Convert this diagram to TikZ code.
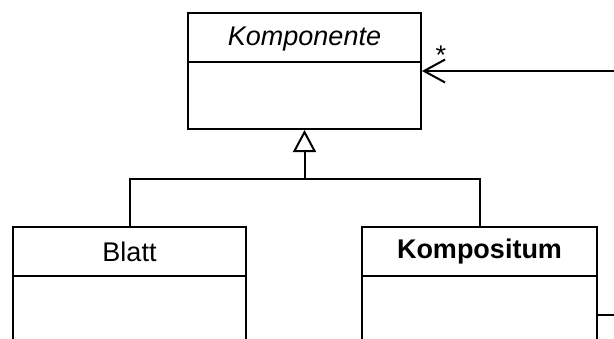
\documentclass[tikz,border=0pt]{standalone}
\usepackage{fontspec}
\setmainfont{Liberation Sans}
\usetikzlibrary{arrows.meta}
\begin{document}
\begin{tikzpicture}[x=1pt,y=-1pt,
  line width=2pt,
  classbox/.style={draw, rectangle, inner sep=0pt},
  classname/.style={font=\fontsize{27}{30}\selectfont, inner sep=0pt, anchor=center},
]
\useasboundingbox (0,0) rectangle (614,338);
\clip (0,0) rectangle (614,338);

% abstract component
\node[classbox, minimum width=233pt, minimum height=116pt] (comp) at (304.5,71) {};
\draw (188,62) -- (421,62);
\node[classname, font=\fontsize{27}{30}\selectfont\itshape] (compname) at (304.5,39) {Komponente};

% leaf
\node[classbox, minimum width=233pt, minimum height=140pt] (leaf) at (129.5,297) {};
\draw (13,276) -- (246,276);
\node[classname] (leafname) at (129.5,252) {Blatt};

% composite
\node[classbox, minimum width=235pt, minimum height=140pt] (compos) at (479.5,297) {};
\draw (362,276) -- (597,276);
\node[classname, font=\fontsize{27}{30}\selectfont\bfseries] (composname) at (479.5,252) {Kompositum};

% generalisation
\coordinate (join) at (304.5,179);
\draw (leaf.north) -- (leaf.north |- join) -| (compos.north);
\draw[-{Triangle[open, length=22pt, width=23pt, fill=white]}] (join) -- (comp.south);

% aggregation back to the component
\coordinate (outR) at (640,315);
\draw[-{Straight Barb[length=21pt, width=23pt]}] (compos.east |- outR) -- (outR) |- (comp.east);
\node[font=\fontsize{27}{30}\selectfont, inner sep=0pt] (mult) at (441,55) {*};
\end{tikzpicture}
\end{document}
